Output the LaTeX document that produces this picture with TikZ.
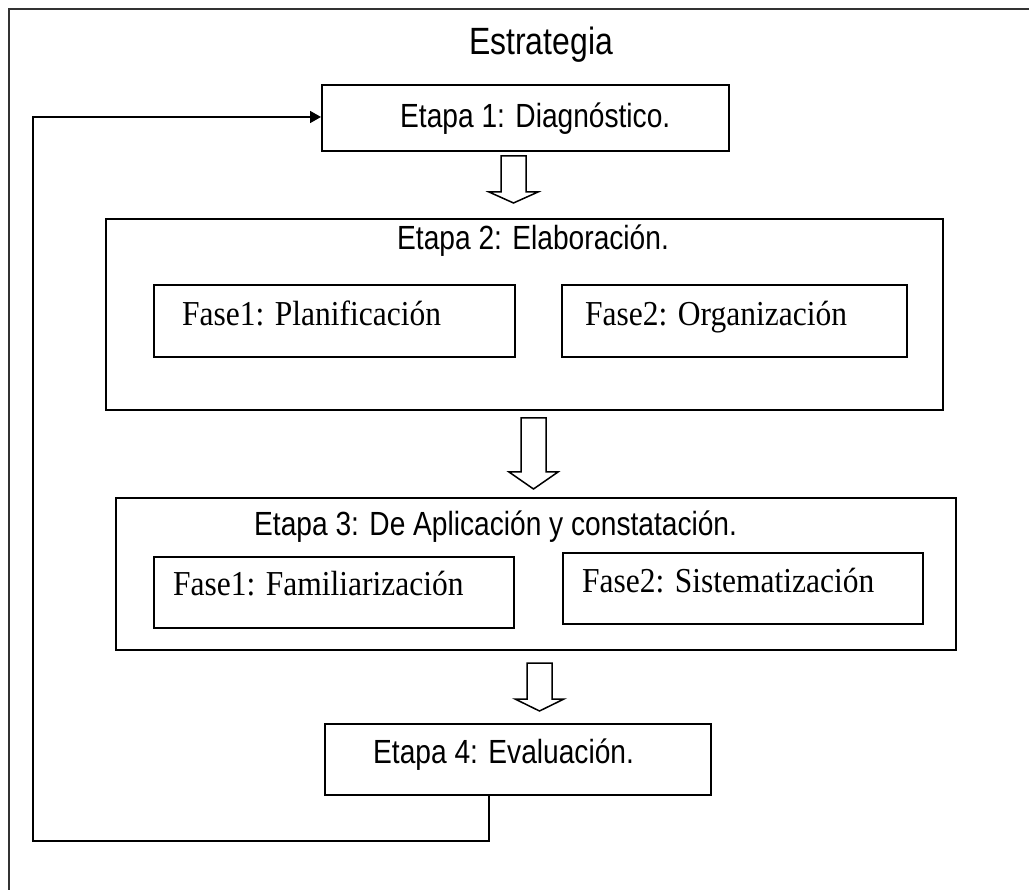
\documentclass[tikz,border=0pt]{standalone}
\usepackage{fontspec}
\setmainfont[FakeStretch=0.9]{Liberation Serif}
\newfontfamily\narrowsans[FakeStretch=0.84]{Liberation Sans}
\usetikzlibrary{arrows.meta}

\tikzset{
  frameline/.style={line width=2pt, draw=black!80},
  stagebox/.style={draw, line width=1.7pt, rectangle, inner sep=0pt, anchor=north west},
  stagetitle/.style={anchor=base west, inner sep=0pt, font=\narrowsans\fontsize{33.5}{40}\selectfont},
  phasetext/.style={anchor=base west, inner sep=0pt, font=\fontsize{35}{42}\selectfont},
  loopline/.style={line width=1.7pt, -{Triangle[length=11pt, width=12pt]}},
  pics/hollowdown/.style n args={2}{code={
    \draw[line width=1.5pt, line join=miter, fill=white]
      (-12.5,0) -- (12.5,0) -- (12.5,#1-#2) -- (24.5,#1-#2) -- (0,#1)
      -- (-24.5,#1-#2) -- (-12.5,#1-#2) -- cycle;
  }}
}

\begin{document}
\begin{tikzpicture}[x=1pt, y=-1pt]
  \useasboundingbox (0,0) rectangle (1029,890);

  % page frame (only top and left edges are in view)
  \draw[frameline] (1029,9) -- (9,9) -- (9,890);

  \node[anchor=base, inner sep=0pt, font=\narrowsans\fontsize{38}{45}\selectfont] (title) at (541,55) {Estrategia};

  % stage 1
  \node[stagebox, minimum width=407pt, minimum height=66pt] (e1) at (321,84) {};
  \node[stagetitle] (e1t) at (400,128) {Etapa 1: Diagnóstico.};

  % stage 2 with its two phases
  \node[stagebox, minimum width=837pt, minimum height=191pt] (e2) at (105,218) {};
  \node[stagetitle] (e2t) at (397,250) {Etapa 2: Elaboración.};
  \node[stagebox, minimum width=361pt, minimum height=72pt] (f1) at (153,284) {};
  \node[phasetext] (f1t) at (182,326) {Fase1: Planificación};
  \node[stagebox, minimum width=345pt, minimum height=72pt] (f2) at (561,284) {};
  \node[phasetext] (f2t) at (585,326) {Fase2: Organización};

  % stage 3 with its two phases
  \node[stagebox, minimum width=840pt, minimum height=152pt] (e3) at (115,497) {};
  \node[stagetitle] (e3t) at (254,536) {Etapa 3: De Aplicación y constatación.};
  \node[stagebox, minimum width=360pt, minimum height=71pt] (f3) at (153,556) {};
  \node[phasetext] (f3t) at (173,595) {Fase1: Familiarización};
  \node[stagebox, minimum width=360pt, minimum height=71pt] (f4) at (562,552) {};
  \node[phasetext] (f4t) at (582,592) {Fase2: Sistematización};

  % stage 4
  \node[stagebox, minimum width=386pt, minimum height=71pt] (e4) at (324,723) {};
  \node[stagetitle] (e4t) at (373,763) {Etapa 4: Evaluación.};

  % hollow arrows between the stages
  \pic at (513.5,156) {hollowdown={47}{11}};
  \pic at (533.5,418) {hollowdown={71}{17}};
  \pic at (539.5,663) {hollowdown={48}{12}};

  % feedback loop from evaluation back to diagnosis
  \coordinate (c1) at (489,841);
  \coordinate (c2) at (33,841);
  \coordinate (c3) at (33,117);
  \draw[loopline] (e4.south -| c1) -- (c1) -- (c2) -- (c3) -- (c3 -| e1.west);
\end{tikzpicture}
\end{document}
